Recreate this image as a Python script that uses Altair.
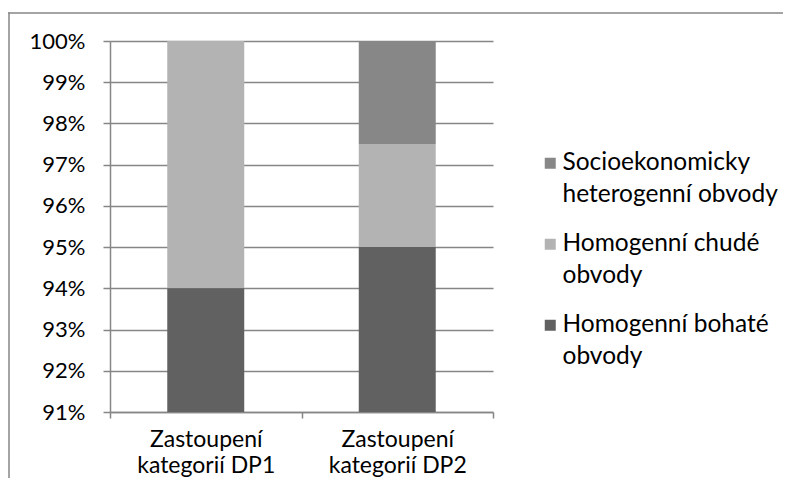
import altair as alt
import pandas as pd

# ---- data ----
categories = ["Zastoupení\nkategorií DP1", "Zastoupení\nkategorií DP2"]
series = [
    "Socioekonomicky\nheterogenní obvody",
    "Homogenní chudé\nobvody",
    "Homogenní bohaté\nobvody",
]
stack_order = [3, 2, 1]  # bohaté at the bottom
colors = ["#878787", "#b3b3b3", "#616161"]
values_hetero = [0.0, 0.025]
values_chude = [0.06, 0.025]
values_bohate = [0.94, 0.95]
y_ticks = [0.91, 0.92, 0.93, 0.94, 0.95, 0.96, 0.97, 0.98, 0.99, 1.0]
title_text = "obvod"

rows = []
for s, o, vals in zip(series, stack_order, [values_hetero, values_chude, values_bohate]):
    for c, v in zip(categories, vals):
        rows.append({"kategorie": c, "serie": s, "poradi": o, "podil": v})
df = pd.DataFrame(rows)

FONT = "Lato"
GRAY = "#868686"

bars = alt.Chart(df).mark_bar(clip=True, width=alt.RelativeBandSize(0.402)).encode(
    x=alt.X(
        "kategorie:N",
        sort=categories,
        scale=alt.Scale(paddingInner=0, paddingOuter=0),
        axis=alt.Axis(
            title=None,
            labelAngle=0,
            labelExpr="split(datum.label, '\\n')",
            labelFontSize=23,
            labelLineHeight=26,
            labelPadding=10,
            labelBaseline="top",
            tickBand="extent",
            tickSize=6,
            grid=False,
        ),
    ),
    y=alt.Y(
        "podil:Q",
        stack="zero",
        scale=alt.Scale(domain=[0.91, 1.0], nice=False, zero=False),
        axis=alt.Axis(
            title=None,
            values=y_ticks,
            format=".0%",
            labelFontSize=22,
            labelPadding=18,
            tickSize=7,
            grid=True,
        ),
    ),
    color=alt.Color(
        "serie:N",
        scale=alt.Scale(domain=series, range=colors),
        legend=alt.Legend(
            title=None,
            orient="none",
            legendX=428,
            legendY=110,
            symbolType="square",
            symbolSize=121,
            symbolStrokeWidth=0,
            labelExpr="split(datum.label, '\\n')",
            labelFontSize=24.5,
            labelBaseline="middle",
            labelOffset=0,
            labelLimit=400,
            rowPadding=24,
        ),
    ),
    order=alt.Order("poradi:Q", sort="ascending"),
)

frame_df = pd.DataFrame({"f": [0]})
frame_top = alt.Chart(frame_df).mark_rect(color=GRAY, clip=False).encode(
    x=alt.value(-101.75), x2=alt.value(720), y=alt.value(-28.75), y2=alt.value(-27.25)
)
frame_left = alt.Chart(frame_df).mark_rect(color=GRAY, clip=False).encode(
    x=alt.value(-101.75), x2=alt.value(-100.25), y=alt.value(-28.75), y2=alt.value(600)
)

chart = alt.layer(frame_top, frame_left, bars).properties(
    width=383,
    height=371,
    title=alt.TitleParams(
        title_text,
        anchor="start",
        frame="group",
        font="Liberation Serif",
        fontWeight="bold",
        fontSize=32,
        baseline="alphabetic",
        offset=30,
        dx=-112,
        color="black",
    ),
    autosize=alt.AutoSizeParams(type="none"),
    padding={"left": 102, "top": 33, "right": 290, "bottom": 66},
).configure(
    style={"guide-label": {"lineHeight": 32}}
).configure_view(
    stroke=None
).configure_axis(
    domainColor=GRAY,
    domainWidth=1.5,
    tickColor=GRAY,
    tickWidth=1.5,
    gridColor=GRAY,
    gridWidth=1.5,
    labelColor="black",
    labelFont=FONT,
).configure_legend(
    labelFont=FONT,
    labelColor="black",
)

chart.save("out.html", embed_options={"renderer": "svg", "actions": False})
